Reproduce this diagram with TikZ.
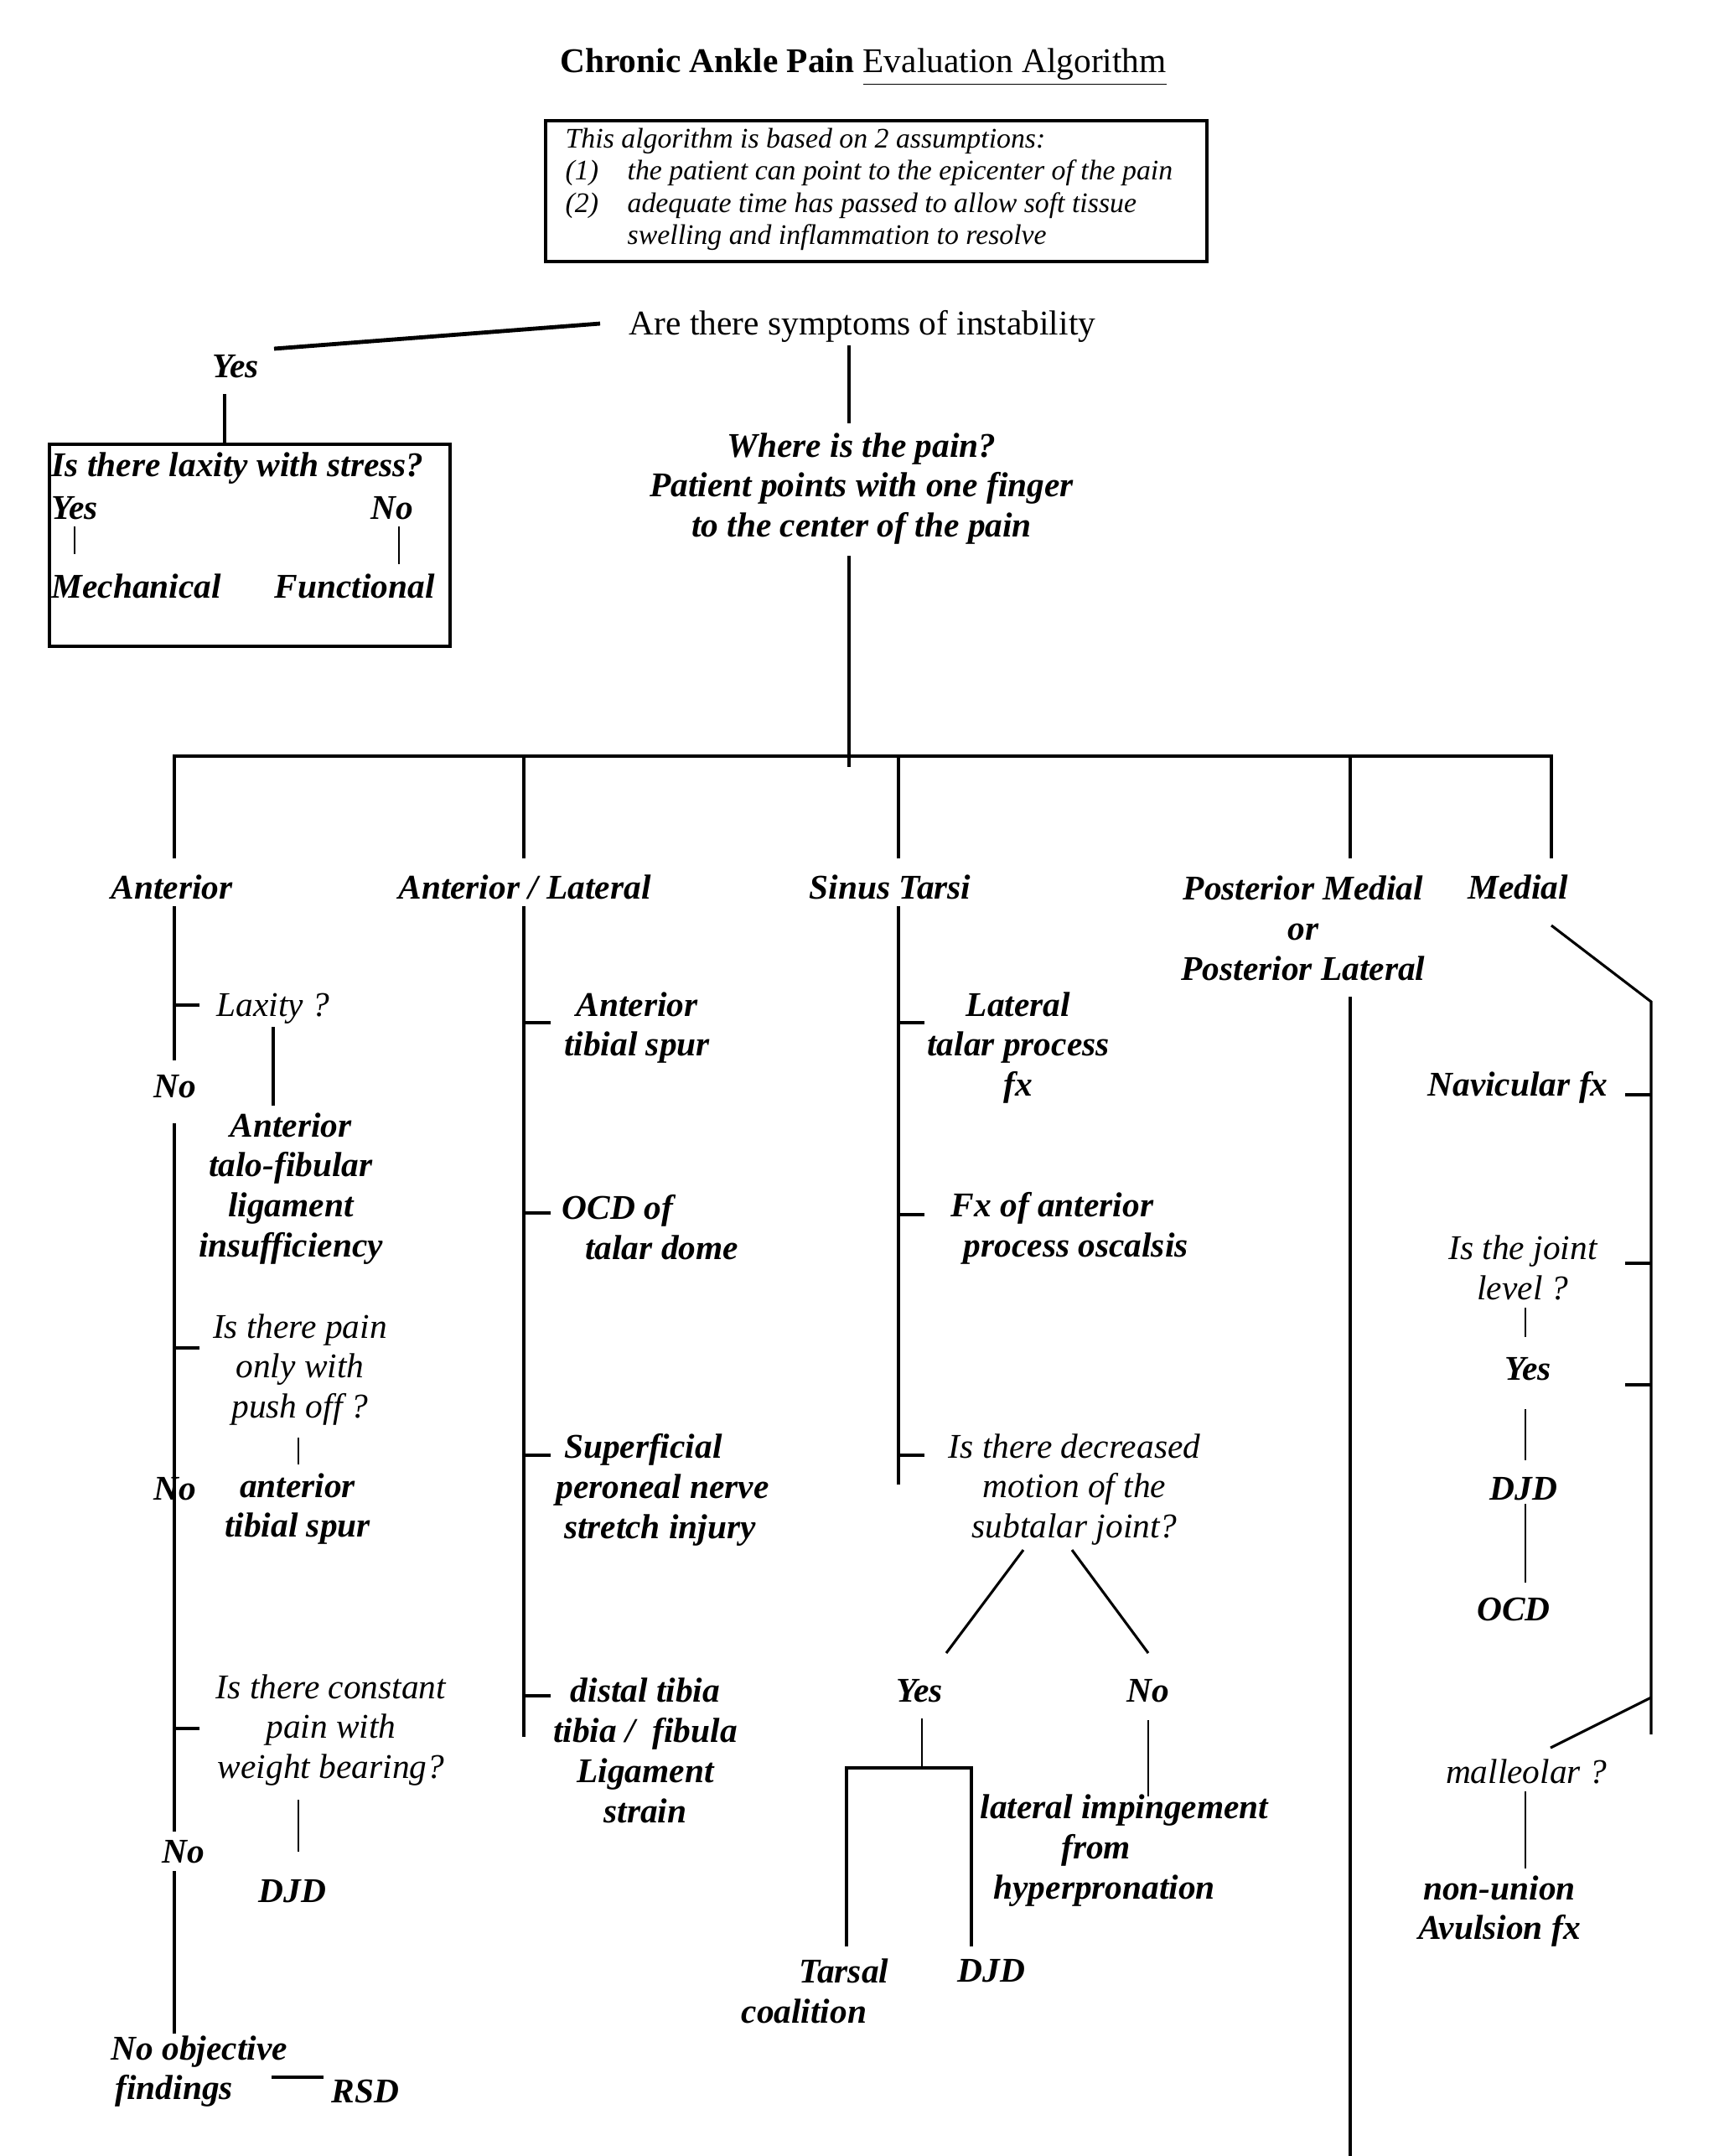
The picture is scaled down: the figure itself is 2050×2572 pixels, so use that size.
\documentclass[tikz,border=0pt]{standalone}
\usepackage{fontspec}
\setmainfont{Liberation Serif}
\begin{document}
\begin{tikzpicture}[x=0.29pt,y=-0.29pt,
  bi/.style={font=\fontsize{12}{13.9}\selectfont\bfseries\itshape,inner sep=0pt,align=center},
  it/.style={font=\fontsize{12}{13.9}\selectfont\itshape,inner sep=0pt,align=center},
  rm/.style={font=\fontsize{12}{13.9}\selectfont,inner sep=0pt},
  sm/.style={font=\fontsize{9.8}{11.3}\selectfont\itshape,inner sep=0pt,anchor=base west},
  ln/.style={line width=0.9pt},
  thinln/.style={line width=0.65pt},
  heavy/.style={line width=1.4pt}]
\fill[white] (0,0) rectangle (2050,2572);
\useasboundingbox (0,0) rectangle (2050,2572);

% ---------- title and assumptions ----------
\node[rm] (title) at (1030,80) {\textbf{Chronic Ankle Pain} \underline{Evaluation Algorithm}};
\path (651,144) coordinate (bxa) (1440,312) coordinate (bxb);
\draw[ln] (bxa) rectangle (bxb);
\node[sm] (as0) at (674,176) {This algorithm is based on 2 assumptions:};
\node[sm] (as1n) at (674,214) {(1)};
\node[sm] (as1) at (748,214) {the patient can point to the epicenter of the pain};
\node[sm] (as2n) at (674,253) {(2)};
\node[sm] (as2) at (748,253) {adequate time has passed to allow soft tissue};
\node[sm] (as3) at (748,291) {swelling and inflammation to resolve};

% ---------- instability ----------
\node[rm] (q1) at (1029,389) {Are there symptoms of instability};
\node[bi] (yes1) at (281,437) {Yes};
\path (716,386) coordinate (s1a) (327,416) coordinate (s1b);
\draw[heavy] (s1a) -- (s1b);
\path (268,470) coordinate (y1a) (268,530) coordinate (y1b);
\draw[ln] (y1a) -- (y1b);
\path (59,530) coordinate (b2a) (537,771) coordinate (b2b);
\draw[ln] (b2a) rectangle (b2b);
\node[bi,anchor=west] (lax) at (61,559) {Is there laxity with stress?};
\node[bi,anchor=west] (laxy) at (61,606) {Yes};
\node[bi,anchor=east] (laxn) at (494,606) {No};
\node[bi,anchor=west] (mech) at (61,699) {Mechanical};
\node[bi,anchor=west] (func) at (327,699) {Functional};
\path (89,628) coordinate (m1) (89,661) coordinate (m2)
      (476,628) coordinate (f1) (476,673) coordinate (f2);
\draw[thinln] (m1) -- (m2);
\draw[thinln] (f1) -- (f2);

% ---------- where is the pain ----------
\node[bi] (where) at (1028,583) {Where is the pain?\\Patient points with one finger\\to the center of the pain};
\path (1013,412) coordinate (c1) (1013,505) coordinate (c2)
      (1013,663) coordinate (c3) (1013,915) coordinate (c4);
\draw[ln] (c1) -- (c2);
\draw[ln] (c3) -- (c4);

% ---------- main horizontal bar ----------
\path (208,902) coordinate (h1) (1851,902) coordinate (h5)
      (625,902) coordinate (h2) (1072,902) coordinate (h3) (1611,902) coordinate (h4)
      (208,1024) coordinate (d1) (625,1024) coordinate (d2) (1072,1024) coordinate (d3)
      (1611,1024) coordinate (d4) (1851,1024) coordinate (d5);
\draw[ln] (d1) -- (h1) -- (h5) -- (d5);
\draw[ln] (h2) -- (d2);
\draw[ln] (h3) -- (d3);
\draw[ln] (h4) -- (d4);

\node[bi] (ant) at (205,1058) {Anterior};
\node[bi] (antlat) at (626,1058) {Anterior / Lateral};
\node[bi] (sinus) at (1062,1058) {Sinus Tarsi};
\node[bi] (post) at (1555,1107) {Posterior Medial\\or\\Posterior Lateral};
\node[bi] (medial) at (1811,1058) {Medial};

% ---------- anterior column ----------
\node[it,anchor=west] (laxq) at (258,1203) {Laxity ?};
\node[bi] (no1) at (209,1296) {No};
\node[bi] (atfl) at (347,1418) {Anterior\\talo-fibular\\ligament\\insufficiency};
\node[it] (pushq) at (358,1634) {Is there pain\\only with\\push off ?};
\node[bi] (no2) at (209,1776) {No};
\node[bi] (ats1) at (355,1800) {anterior\\tibial spur};
\node[it] (constq) at (395,2064) {Is there constant\\pain with\\weight bearing?};
\node[bi] (no3) at (219,2209) {No};
\node[bi] (djd1) at (349,2256) {DJD};
\node[bi,align=left,anchor=west] (noobj) at (132,2471) {No objective\\\hspace*{1.4pt}findings};
\node[bi] (rsd) at (436,2495) {RSD};

\path (208,1081) coordinate (a1) (208,1265) coordinate (a2)
      (208,1340) coordinate (a3) (208,2185) coordinate (a4)
      (208,2232) coordinate (a5) (208,2426) coordinate (a6)
      (208,1199) coordinate (t1a) (238,1199) coordinate (t1b)
      (208,1608) coordinate (t2a) (238,1608) coordinate (t2b)
      (208,2062) coordinate (t3a) (238,2062) coordinate (t3b)
      (326,1225) coordinate (v1a) (326,1319) coordinate (v1b)
      (356,1715) coordinate (v2a) (356,1747) coordinate (v2b)
      (356,2147) coordinate (v3a) (356,2209) coordinate (v3b)
      (324,2478) coordinate (r1) (386,2478) coordinate (r2);
\draw[ln] (a1) -- (a2);
\draw[ln] (a3) -- (a4);
\draw[ln] (a5) -- (a6);
\draw[ln] (t1a) -- (t1b);
\draw[ln] (t2a) -- (t2b);
\draw[ln] (t3a) -- (t3b);
\draw[ln] (v1a) -- (v1b);
\draw[thinln] (v2a) -- (v2b);
\draw[thinln] (v3a) -- (v3b);
\draw[ln] (r1) -- (r2);

% ---------- anterior / lateral column ----------
\node[bi] (ats2) at (760,1226) {Anterior\\tibial spur};
\node[bi,align=left,anchor=west] (ocd1) at (670,1464) {OCD of\\\hspace*{8pt}talar dome};
\node[bi,align=left,anchor=west] (spn) at (663,1777) {\hspace*{2.7pt}Superficial\\peroneal nerve\\\hspace*{2.7pt}stretch injury};
\node[bi] (dtf) at (770,2088) {distal tibia\\tibia /\ \ fibula\\Ligament\\strain};
\path (625,1081) coordinate (al1) (625,2072) coordinate (al2)
      (625,1220) coordinate (u1a) (657,1220) coordinate (u1b)
      (625,1447) coordinate (u2a) (657,1447) coordinate (u2b)
      (625,1736) coordinate (u3a) (657,1736) coordinate (u3b)
      (625,2023) coordinate (u4a) (657,2023) coordinate (u4b);
\draw[ln] (al1) -- (al2);
\draw[ln] (u1a) -- (u1b);
\draw[ln] (u2a) -- (u2b);
\draw[ln] (u3a) -- (u3b);
\draw[ln] (u4a) -- (u4b);

% ---------- sinus tarsi column ----------
\node[bi] (ltp) at (1215,1250) {Lateral\\talar process\\fx};
\node[bi,align=left,anchor=west] (fxa) at (1134,1465) {Fx of anterior\\\hspace*{4.4pt}process oscalsis};
\node[it] (decq) at (1282,1777) {Is there decreased\\motion of the\\subtalar joint?};
\node[bi] (yes2) at (1097,2017) {Yes};
\node[bi] (no4) at (1370,2017) {No};
\node[bi,align=left,anchor=west] (tc) at (884,2375) {\hspace*{20pt}Tarsal\\coalition};
\node[bi] (djd2) at (1183,2351) {DJD};
\node[bi,align=left,anchor=west] (lih) at (1169,2208) {lateral impingement\\\hspace*{28pt}from\\\hspace*{4.6pt}hyperpronation};
\path (1072,1081) coordinate (st1) (1072,1771) coordinate (st2)
      (1072,1220) coordinate (w1a) (1103,1220) coordinate (w1b)
      (1072,1449) coordinate (w2a) (1103,1449) coordinate (w2b)
      (1072,1736) coordinate (w3a) (1103,1736) coordinate (w3b)
      (1221,1849) coordinate (g1a) (1129,1972) coordinate (g1b)
      (1279,1849) coordinate (g2a) (1370,1972) coordinate (g2b)
      (1100,2050) coordinate (e1) (1100,2109) coordinate (e2)
      (1010,2109) coordinate (e3) (1159,2109) coordinate (e4)
      (1010,2322) coordinate (e5) (1159,2322) coordinate (e6)
      (1370,2052) coordinate (n1) (1370,2143) coordinate (n2);
\draw[ln] (st1) -- (st2);
\draw[ln] (w1a) -- (w1b);
\draw[ln] (w2a) -- (w2b);
\draw[ln] (w3a) -- (w3b);
\draw[ln] (g1a) -- (g1b);
\draw[ln] (g2a) -- (g2b);
\draw[thinln] (e1) -- (e2);
\draw[ln] (e5) -- (e3) -- (e4) -- (e6);
\draw[thinln] (n1) -- (n2);

% ---------- posterior column ----------
\path (1611,1189) coordinate (pc1) (1611,2572) coordinate (pc2);
\draw[ln] (pc1) -- (pc2);

% ---------- medial column ----------
\node[bi] (nav) at (1811,1297) {Navicular fx};
\node[it] (jointq) at (1817,1512) {Is the joint\\level ?};
\node[bi] (yes3) at (1823,1633) {Yes};
\node[bi] (djd3) at (1818,1776) {DJD};
\node[bi] (ocd2) at (1806,1920) {OCD};
\node[it] (mallq) at (1821,2113) {malleolar ?};
\node[bi] (nonu) at (1789,2280) {non-union\\Avulsion fx};
\path (1851,1104) coordinate (md1) (1970,1195) coordinate (md2)
      (1970,2069) coordinate (md3)
      (1970,2025) coordinate (md4) (1850,2085) coordinate (md5)
      (1939,1306) coordinate (x1a) (1970,1306) coordinate (x1b)
      (1939,1507) coordinate (x2a) (1970,1507) coordinate (x2b)
      (1939,1652) coordinate (x3a) (1970,1652) coordinate (x3b)
      (1820,1560) coordinate (z1a) (1820,1595) coordinate (z1b)
      (1820,1681) coordinate (z2a) (1820,1742) coordinate (z2b)
      (1820,1794) coordinate (z3a) (1820,1888) coordinate (z3b)
      (1820,2137) coordinate (z4a) (1820,2229) coordinate (z4b);
\draw[ln] (md1) -- (md2) -- (md3);
\draw[ln] (md4) -- (md5);
\draw[ln] (x1a) -- (x1b);
\draw[ln] (x2a) -- (x2b);
\draw[ln] (x3a) -- (x3b);
\draw[thinln] (z1a) -- (z1b);
\draw[thinln] (z2a) -- (z2b);
\draw[thinln] (z3a) -- (z3b);
\draw[thinln] (z4a) -- (z4b);
\end{tikzpicture}
\end{document}
